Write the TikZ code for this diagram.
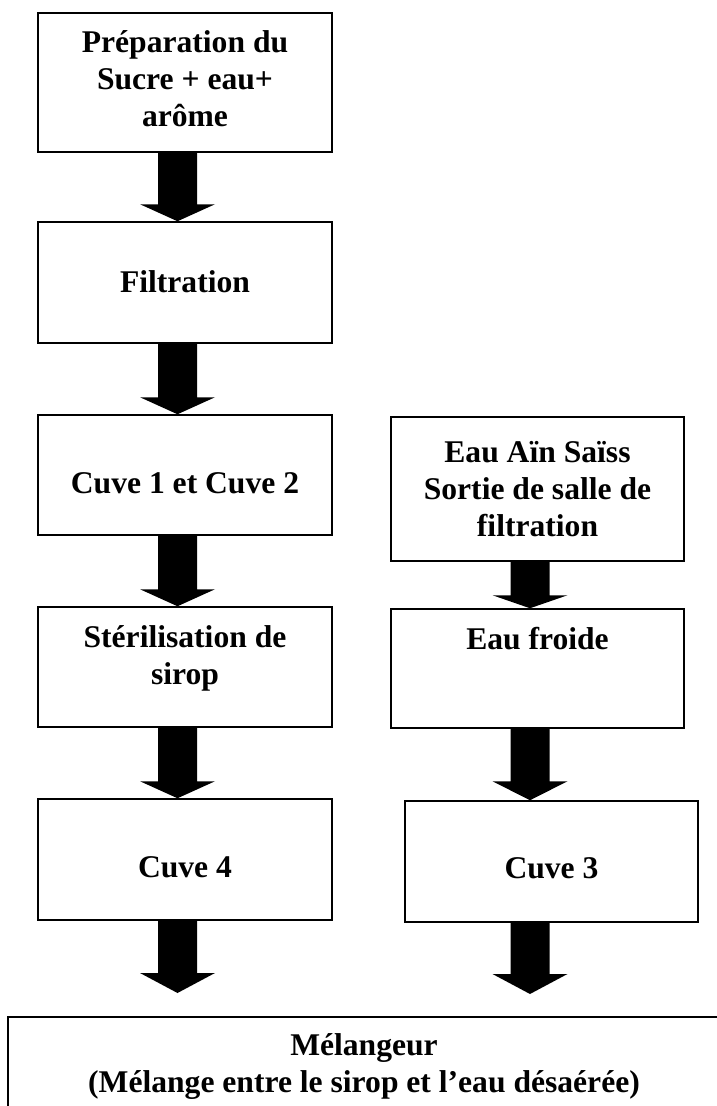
\documentclass[tikz,border=0pt]{standalone}
\usepackage{fontspec}
\setmainfont{Liberation Serif}
\usetikzlibrary{calc}
% centred lines whose baseline is that of the first line
\newcommand\txtlines[1]{\vtop{\halign{\hfil##\hfil\cr#1\crcr}}}
% thick block arrow: #1 start, #2 tip, #3 head length
\newcommand\blockarr[3]{%
  \fill[arrowfill] let \p1=(#1), \p2=(#2) in
    (\x1-19.5pt,\y1) -- (\x1+19.5pt,\y1) -- (\x1+19.5pt,\y2+#3pt)
    -- (\x1+37.5pt,\y2+#3pt) -- (\x1,\y2) -- (\x1-37.5pt,\y2+#3pt)
    -- (\x1-19.5pt,\y2+#3pt) -- cycle;}
\begin{document}
\begin{tikzpicture}[x=1pt,y=-1pt,
  box/.style={draw=black, line width=1.5pt, rectangle, inner sep=0pt,
              minimum width=294pt},
  txt/.style={font=\fontsize{31.6}{37}\selectfont\bfseries, inner sep=0pt,
              anchor=base},
  arrowfill/.style={fill=black}]
\useasboundingbox (0,0) rectangle (717,1106);
\clip (0,0) rectangle (717,1106);

% syrup line
\node[box, minimum height=139pt] (b1) at (185,82.5) {};
\node[box, minimum height=121pt] (b2) at (185,282.5) {};
\node[box, minimum height=120pt] (b3) at (185,475) {};
\node[box, minimum height=120pt] (b4) at (185,667) {};
\node[box, minimum height=121pt] (b5) at (185,859.5) {};

% water line
\node[box, minimum width=293pt, minimum height=144pt] (r1) at (537.5,489) {};
\node[box, minimum width=293pt, minimum height=119pt] (r2) at (537.5,668.5) {};
\node[box, minimum width=293pt, minimum height=121pt] (r3) at (551.5,861.5) {};

% mixer
\node[box, minimum width=712pt, minimum height=113pt] (m) at (364,1073.5) {};

% texts
\node[txt] (t1) at ([yshift=-40pt]b1.north) {\txtlines{Préparation du\cr Sucre + eau+\cr arôme}};
\node[txt] (t2) at ([yshift=-71pt]b2.north) {Filtration};
\node[txt] (t3) at ([yshift=-79pt]b3.north) {Cuve 1 et Cuve 2};
\node[txt] (t4) at ([yshift=-41pt]b4.north) {\txtlines{Stérilisation de\cr sirop}};
\node[txt] (t5) at ([yshift=-79pt]b5.north) {Cuve 4};
\node[txt] (s1) at ([yshift=-46pt]r1.north) {\txtlines{Eau Aïn Saïss\cr Sortie de salle de\cr filtration}};
\node[txt] (s2) at ([yshift=-41pt]r2.north) {Eau froide};
\node[txt] (s3) at ([yshift=-78pt]r3.north) {Cuve 3};
\node[txt] (tm) at ([yshift=-39pt]m.north) {\txtlines{Mélangeur\cr (Mélange entre le sirop et l’eau désaérée)}};

% arrow columns and free arrow ends
\coordinate (colL) at (177.5,0);
\coordinate (colR) at (530,0);
\coordinate (endL) at (177.5,993);
\coordinate (endR) at (530,994);

\blockarr{b1.south -| colL}{b2.north -| colL}{17}
\blockarr{b2.south -| colL}{b3.north -| colL}{17}
\blockarr{b3.south -| colL}{b4.north -| colL}{17}
\blockarr{b4.south -| colL}{b5.north -| colL}{17}
\blockarr{b5.south -| colL}{endL}{20}

\blockarr{r1.south -| colR}{r2.north -| colR}{13}
\blockarr{r2.south -| colR}{r3.north -| colR}{19}
\blockarr{r3.south -| colR}{endR}{20}
\end{tikzpicture}
\end{document}
